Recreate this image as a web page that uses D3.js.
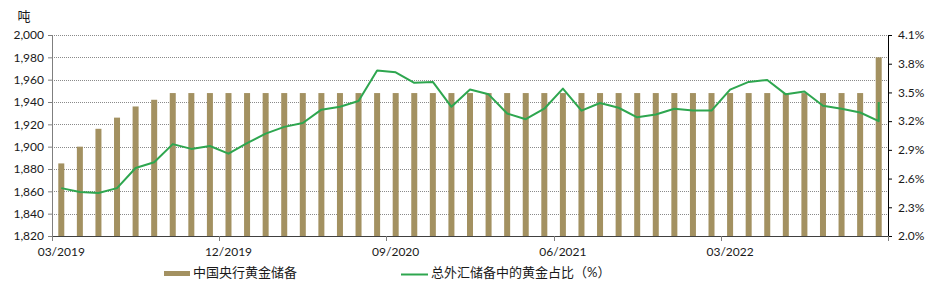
<!DOCTYPE html>
<html>
<head>
<meta charset="utf-8">
<script src="https://cdn.jsdelivr.net/npm/d3@7"></script>
<style>
body { margin: 0; background: #fff; }
text { font-family: "Lato", "Noto Sans CJK SC", sans-serif; fill: #1a1a1a; }
</style>
</head>
<body>
<div id="chart_div"></div>
<script>
var months = [
    "03/2019", "04/2019", "05/2019", "06/2019", "07/2019", "08/2019", "09/2019", "10/2019", "11/2019", "12/2019",
    "01/2020", "02/2020", "03/2020", "04/2020", "05/2020", "06/2020", "07/2020", "08/2020", "09/2020", "10/2020",
    "11/2020", "12/2020", "01/2021", "02/2021", "03/2021", "04/2021", "05/2021", "06/2021", "07/2021", "08/2021",
    "09/2021", "10/2021", "11/2021", "12/2021", "01/2022", "02/2022", "03/2022", "04/2022", "05/2022", "06/2022",
    "07/2022", "08/2022", "09/2022", "10/2022", "11/2022"
];

// 中国央行黄金储备 (吨)
var gold_tonnes = [
    1885, 1900, 1916, 1926, 1936, 1942, 1948, 1948, 1948, 1948,
    1948, 1948, 1948, 1948, 1948, 1948, 1948, 1948, 1948, 1948,
    1948, 1948, 1948, 1948, 1948, 1948, 1948, 1948, 1948, 1948,
    1948, 1948, 1948, 1948, 1948, 1948, 1948, 1948, 1948, 1948,
    1948, 1948, 1948, 1948, 1980
];

// 总外汇储备中的黄金占比 (%), the last month shows up twice (vertical step)
var share_months = months.concat(["11/2022"]);
var gold_share = [
    2.50, 2.46, 2.45, 2.50, 2.71, 2.77, 2.96, 2.91, 2.94, 2.86,
    2.97, 3.07, 3.14, 3.18, 3.32, 3.35, 3.41, 3.73, 3.71, 3.60,
    3.61, 3.35, 3.53, 3.48, 3.28, 3.22, 3.33, 3.54, 3.31, 3.39,
    3.34, 3.24, 3.27, 3.33, 3.31, 3.31, 3.53, 3.61, 3.63, 3.48,
    3.51, 3.36, 3.33, 3.29, 3.20, 3.40
];

var left_ticks = [1820, 1840, 1860, 1880, 1900, 1920, 1940, 1960, 1980, 2000];
var right_ticks = [2.0, 2.3, 2.6, 2.9, 3.2, 3.5, 3.8, 4.1];
var label_months = ["03/2019", "12/2019", "09/2020", "06/2021", "03/2022"];

var bar_colour = "#a39161";
var line_colour = "#2ea64f";

var chart_width = 937;
var chart_height = 305;
var plot_left = 52, plot_right = 888, plot_top = 35, plot_bottom = 236;

var svg = d3.select("#chart_div")
    .append("svg")
    .attr("width", chart_width)
    .attr("height", chart_height);

var x = d3.scaleBand().domain(months).range([plot_left, plot_right]);
var bw = x.bandwidth();
var y_left = d3.scaleLinear().domain([1820, 2000]).range([plot_bottom, plot_top]);
var y_right = d3.scaleLinear().domain([2.0, 4.1]).range([plot_bottom, plot_top]);

// dotted gridlines
svg.append("g")
    .selectAll("line")
    .data(left_ticks)
    .enter()
    .append("line")
    .attr("x1", plot_left)
    .attr("x2", plot_right)
    .attr("y1", function(d) { return Math.round(y_left(d)) + 0.5; })
    .attr("y2", function(d) { return Math.round(y_left(d)) + 0.5; })
    .attr("stroke", "#8a8a8a")
    .attr("stroke-dasharray", "1,1");

// bars
svg.append("g")
    .selectAll("rect")
    .data(gold_tonnes)
    .enter()
    .append("rect")
    .attr("x", function(d, i) { return x(months[i]) + bw / 2 - 3; })
    .attr("y", function(d) { return y_left(d); })
    .attr("width", 6)
    .attr("height", function(d) { return plot_bottom - y_left(d); })
    .attr("fill", bar_colour);

// left axis
var left_axis = svg.append("g")
    .attr("transform", "translate(" + plot_left + ",0)")
    .call(d3.axisLeft(y_left)
        .tickValues(left_ticks)
        .tickSize(4)
        .tickSizeOuter(0)
        .tickPadding(4)
        .tickFormat(d3.format(",")));
left_axis.selectAll("path, line").attr("stroke", "#7f7f7f");
left_axis.selectAll("text")
    .style("font-family", "Lato, sans-serif")
    .style("font-size", "12px")
    .attr("fill", "#1a1a1a");

// right axis
var right_axis = svg.append("g")
    .attr("transform", "translate(" + plot_right + ",0)")
    .call(d3.axisRight(y_right)
        .tickValues(right_ticks)
        .tickSize(4)
        .tickSizeOuter(0)
        .tickPadding(6)
        .tickFormat(function(d) { return d.toFixed(1) + "%"; }));
right_axis.selectAll("path, line").attr("stroke", "#000");
right_axis.selectAll("text")
    .style("font-family", "Lato, sans-serif")
    .style("font-size", "12px")
    .attr("fill", "#1a1a1a");

// bottom axis, ticks sit between categories
var x_axis = svg.append("g");
x_axis.append("line")
    .attr("x1", plot_left)
    .attr("x2", plot_right)
    .attr("y1", plot_bottom + 0.5)
    .attr("y2", plot_bottom + 0.5)
    .attr("stroke", "#404040");
var tick_xs = label_months.map(function(m) { return x(m); }).concat([plot_right]);
x_axis.selectAll(".tick")
    .data(tick_xs)
    .enter()
    .append("line")
    .attr("x1", function(d) { return Math.round(d) + 0.5; })
    .attr("x2", function(d) { return Math.round(d) + 0.5; })
    .attr("y1", plot_bottom)
    .attr("y2", plot_bottom + 5)
    .attr("stroke", "#7f7f7f");
x_axis.selectAll("text")
    .data(label_months)
    .enter()
    .append("text")
    .attr("x", function(d) { return x(d) + bw / 2; })
    .attr("y", 256)
    .attr("text-anchor", "middle")
    .style("font-size", "12px")
    .text(function(d) { return d; });

// share line
var share_line = d3.line()
    .x(function(d, i) { return x(share_months[i]) + bw / 2; })
    .y(function(d) { return y_right(d); });

svg.append("path")
    .datum(gold_share)
    .attr("d", share_line)
    .attr("fill", "none")
    .attr("stroke", line_colour)
    .attr("stroke-width", 2)
    .attr("stroke-linejoin", "round");

// unit
svg.append("text")
    .attr("x", 24)
    .attr("y", 18)
    .attr("text-anchor", "middle")
    .attr("dominant-baseline", "middle")
    .style("font-size", "13px")
    .text("吨");

// legend
var legend = svg.append("g");
legend.append("rect")
    .attr("x", 164)
    .attr("y", 271)
    .attr("width", 26)
    .attr("height", 5)
    .attr("fill", bar_colour);
legend.append("text")
    .attr("x", 193)
    .attr("y", 274)
    .attr("dominant-baseline", "middle")
    .style("font-size", "13px")
    .text("中国央行黄金储备");
legend.append("line")
    .attr("x1", 401)
    .attr("x2", 428)
    .attr("y1", 274.5)
    .attr("y2", 274.5)
    .attr("stroke", line_colour)
    .attr("stroke-width", 2);
legend.append("text")
    .attr("x", 431)
    .attr("y", 274)
    .attr("dominant-baseline", "middle")
    .style("font-size", "13px")
    .text("总外汇储备中的黄金占比（%）");
</script>
</body>
</html>
